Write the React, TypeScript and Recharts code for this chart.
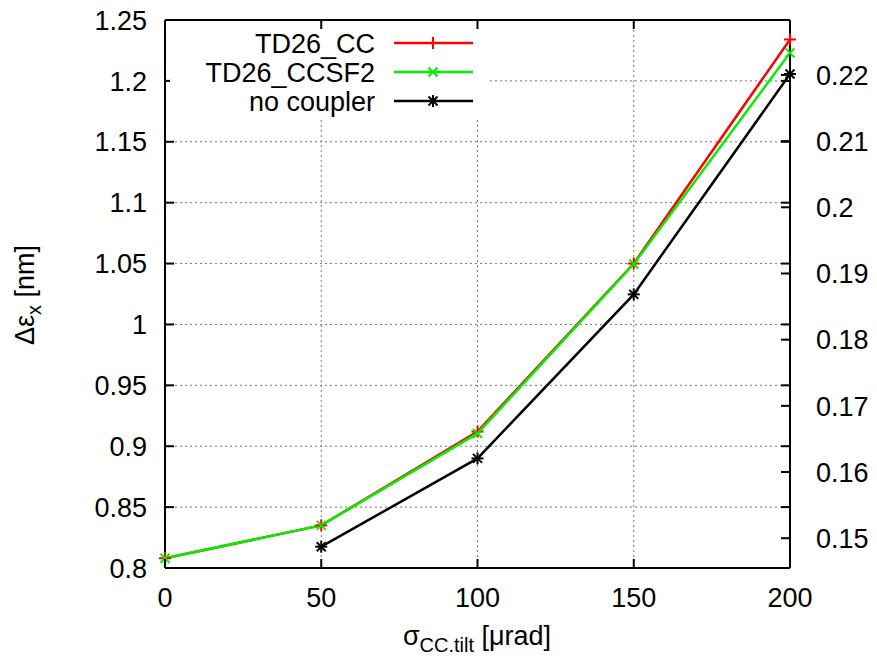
import { LineChart, Line, XAxis, YAxis, CartesianGrid, Legend, ReferenceLine } from 'recharts';

const tilts = [0, 50, 100, 150, 200];
const td26Cc = [0.808, 0.835, 0.912, 1.05, 1.234];
const td26Ccsf2 = [0.808, 0.835, 0.9105, 1.0496, 1.223];
const noCoupler = [null, 0.8175, 0.89, 1.0247, 1.2056];

const xTicks = [0, 50, 100, 150, 200];
const leftTicks = [0.8, 0.85, 0.9, 0.95, 1, 1.05, 1.1, 1.15, 1.2, 1.25];
const rightTicks = [0.15, 0.16, 0.17, 0.18, 0.19, 0.2, 0.21, 0.22];

const data = tilts.map((t, i) => ({
    tilt: t,
    cc: td26Cc[i],
    ccsf2: td26Ccsf2[i],
    none: noCoupler[i],
}));

const FONT = '"Liberation Sans", Arial, Helvetica, sans-serif';
const FS = 27;
const PLOT_W = 625;
const PLOT_H = 548;
const TICK = 9;
const GREEN = '#00f000';

const Plus = ({ cx, cy, color }: any) => (
    <g stroke={color} strokeWidth={2}>
        <line x1={cx - 6} y1={cy} x2={cx + 6} y2={cy} />
        <line x1={cx} y1={cy - 6} x2={cx} y2={cy + 6} />
    </g>
);

const Cross = ({ cx, cy, color }: any) => (
    <g stroke={color} strokeWidth={2}>
        <line x1={cx - 4.5} y1={cy - 4.5} x2={cx + 4.5} y2={cy + 4.5} />
        <line x1={cx - 4.5} y1={cy + 4.5} x2={cx + 4.5} y2={cy - 4.5} />
    </g>
);

const Star = ({ cx, cy, color }: any) => (
    <g>
        <Plus cx={cx} cy={cy} color={color} />
        <Cross cx={cx} cy={cy} color={color} />
    </g>
);

const dotFor = (Shape: any, color: string) => (props: any) => {
    if (props.cy == null || props.value == null) return <g key={props.key} />;
    return <Shape key={props.key} cx={props.cx} cy={props.cy} color={color} />;
};

// ticks point inwards and are mirrored on the opposite side, like gnuplot
const XTick = ({ x, y, payload }: any) => {
    const axisY = y - 8;
    return (
        <g>
            <line x1={x} y1={axisY} x2={x} y2={axisY - TICK} stroke="#000" strokeWidth={2} />
            <line x1={x} y1={axisY - PLOT_H} x2={x} y2={axisY - PLOT_H + TICK} stroke="#000" strokeWidth={2} />
            <text x={x} y={axisY + 39} textAnchor="middle" fontSize={FS} fontFamily={FONT} fill="#000">
                {payload.value}
            </text>
        </g>
    );
};

const LeftTick = ({ x, y, payload }: any) => {
    const axisX = x + 8;
    return (
        <g>
            <line x1={axisX} y1={y} x2={axisX + TICK} y2={y} stroke="#000" strokeWidth={2} />
            <line x1={axisX + PLOT_W} y1={y} x2={axisX + PLOT_W - TICK} y2={y} stroke="#000" strokeWidth={2} />
            <text x={axisX - 18} y={y} dy="0.36em" textAnchor="end" fontSize={FS} fontFamily={FONT} fill="#000">
                {payload.value}
            </text>
        </g>
    );
};

const RightTick = ({ x, y, payload }: any) => {
    const axisX = x - 8;
    return (
        <g>
            <line x1={axisX} y1={y} x2={axisX - TICK} y2={y} stroke="#000" strokeWidth={2} />
            <text x={axisX + 26} y={y} dy="0.36em" textAnchor="start" fontSize={FS} fontFamily={FONT} fill="#000">
                {payload.value}
            </text>
        </g>
    );
};

const legendItems = [
    { name: 'TD26_CC', color: '#ff0000', Shape: Plus },
    { name: 'TD26_CCSF2', color: GREEN, Shape: Cross },
    { name: 'no coupler', color: '#000000', Shape: Star },
];

const LegendBox = () => (
    <svg width={318} height={88} style={{ background: '#fff', display: 'block' }}>
        {legendItems.map((it, i) => {
            const cy = 14 + i * 29;
            return (
                <g key={it.name}>
                    <text x={205} y={cy} dy="0.36em" textAnchor="end" fontSize={FS} fontFamily={FONT} fill="#000">
                        {it.name}
                    </text>
                    <line x1={224} y1={cy} x2={303} y2={cy} stroke={it.color} strokeWidth={2.5} />
                    <it.Shape cx={263} cy={cy} color={it.color} />
                </g>
            );
        })}
    </svg>
);

const axisLine = { stroke: '#000', strokeWidth: 2 };

export default function App() {
    return (
        <div style={{ position: 'absolute', left: 0, top: 0, background: '#fff' }}>
            <LineChart width={877} height={661} data={data} margin={{ top: 20, right: 27, bottom: 53, left: 105 }}>
                <CartesianGrid yAxisId="left" stroke="#777" strokeDasharray="2 3" strokeWidth={1} />
                <XAxis
                    dataKey="tilt"
                    type="number"
                    domain={[0, 200]}
                    ticks={xTicks}
                    height={40}
                    tickSize={0}
                    tickMargin={8}
                    axisLine={axisLine}
                    tick={<XTick />}
                    interval={0}
                    label={{
                        position: 'insideBottom',
                        content: () => (
                            <text x={477} y={645} textAnchor="middle" fontSize={FS} fontFamily={FONT} fill="#000">
                                σ<tspan fontSize={20} dy={7}>CC.tilt</tspan>
                                <tspan dy={-7}> [μrad]</tspan>
                            </text>
                        ),
                    }}
                />
                <YAxis
                    yAxisId="left"
                    domain={[0.8, 1.25]}
                    ticks={leftTicks}
                    width={60}
                    tickSize={0}
                    tickMargin={8}
                    axisLine={axisLine}
                    tick={<LeftTick />}
                    interval={0}
                    allowDataOverflow
                    label={{
                        position: 'insideLeft',
                        content: () => (
                            <text
                                x={34}
                                y={295}
                                transform="rotate(-90 34 295)"
                                textAnchor="middle"
                                fontSize={FS}
                                fontFamily={FONT}
                                fill="#000"
                            >
                                Δε<tspan fontSize={20} dy={7}>x</tspan>
                                <tspan dy={-7}> [nm]</tspan>
                            </text>
                        ),
                    }}
                />
                <YAxis
                    yAxisId="right"
                    orientation="right"
                    domain={[0.1455, 0.2283]}
                    ticks={rightTicks}
                    width={60}
                    tickSize={0}
                    tickMargin={8}
                    axisLine={axisLine}
                    tick={<RightTick />}
                    interval={0}
                    allowDataOverflow
                />
                <ReferenceLine yAxisId="left" y={1.25} stroke="#000" strokeWidth={2} ifOverflow="visible" />
                <Legend
                    layout="horizontal"
                    verticalAlign="middle"
                    align="center"
                    wrapperStyle={{ left: 170, top: 29, width: 318, height: 88 }}
                    content={<LegendBox />}
                />
                <Line
                    yAxisId="left"
                    dataKey="none"
                    stroke="#000"
                    strokeWidth={2.5}
                    dot={dotFor(Star, '#000')}
                    isAnimationActive={false}
                    connectNulls={false}
                />
                <Line
                    yAxisId="left"
                    dataKey="cc"
                    stroke="#ff0000"
                    strokeWidth={2.5}
                    dot={dotFor(Plus, '#ff0000')}
                    isAnimationActive={false}
                />
                <Line
                    yAxisId="left"
                    dataKey="ccsf2"
                    stroke={GREEN}
                    strokeWidth={2.5}
                    dot={dotFor(Cross, GREEN)}
                    isAnimationActive={false}
                />
            </LineChart>
        </div>
    );
}
